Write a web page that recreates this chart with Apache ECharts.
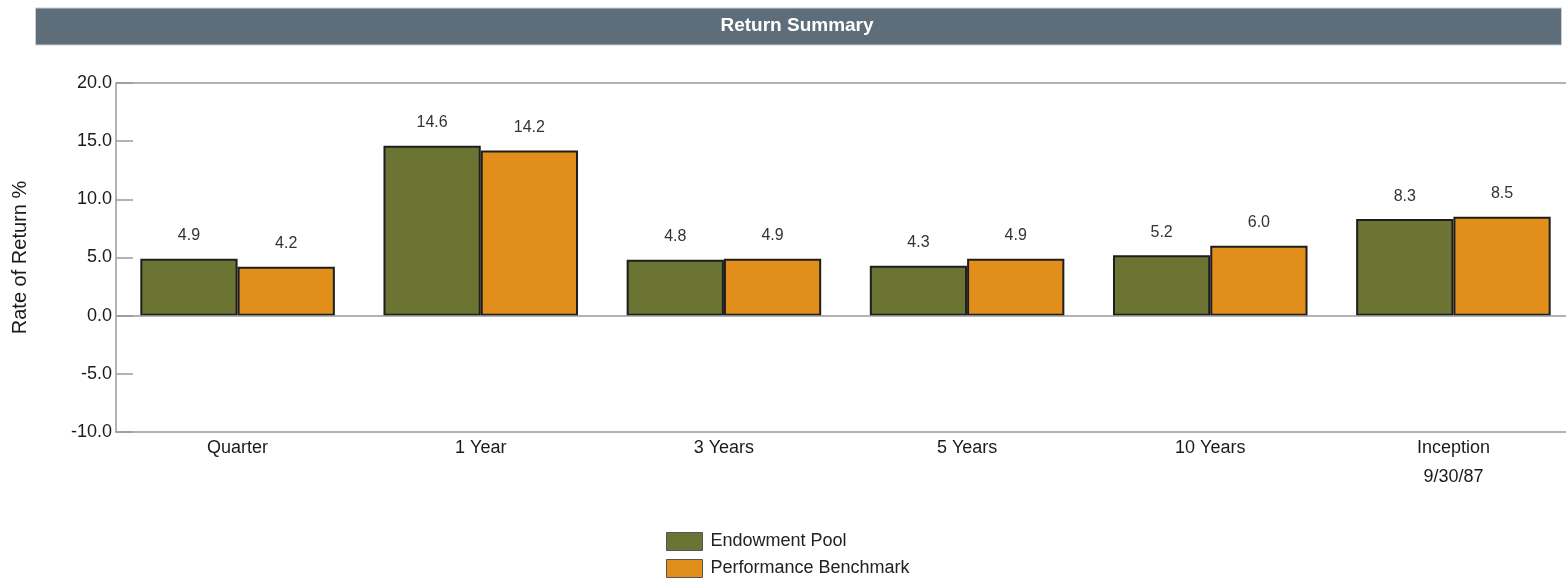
<!DOCTYPE html>
<html>
<head>
<meta charset="utf-8">
<script src="https://cdn.jsdelivr.net/npm/echarts@6/dist/echarts.min.js"></script>
<style>
  html, body { margin: 0; padding: 0; background: #fff; overflow: hidden; }
  /* the plot area runs a little past the right edge of the window, as in the source picture */
  #returnSummary { width: 1575px; height: 578px; }
</style>
</head>
<body>
<div id="returnSummary"></div>
<script>
var categories = ["Quarter", "1 Year", "3 Years", "5 Years", "10 Years", "Inception\n9/30/87"];
var endowmentPool = [4.9, 14.6, 4.8, 4.3, 5.2, 8.3];
var performanceBenchmark = [4.2, 14.2, 4.9, 4.9, 6.0, 8.5];
var seriesNames = ["Endowment Pool", "Performance Benchmark"];
var titleText = "Return Summary";

var font = "'Liberation Sans', Arial, sans-serif";

var myChart = echarts.init(document.getElementById("returnSummary"));

function barSeries(name, data, color) {
  return {
    name: name,
    type: "bar",
    data: data,
    barGap: "0%",
    barCategoryGap: "20%",
    itemStyle: {
      color: color,
      borderColor: "#1e1e1e",
      borderWidth: 2
    },
    label: {
      show: true,
      position: "top",
      distance: 15,
      color: "#333",
      fontSize: 16,
      fontFamily: font,
      formatter: function (p) {
        return p.value.toFixed(1);
      }
    }
  };
}

var series = [
  barSeries(seriesNames[0], endowmentPool, "#6b7433"),
  barSeries(seriesNames[1], performanceBenchmark, "#e18e1a")
];
// zero line and top line
series[0].markLine = {
  silent: true,
  symbol: "none",
  label: { show: false },
  lineStyle: { color: "#9a9a9a", width: 1.5, type: "solid" },
  data: [{ yAxis: 0 }, { yAxis: 20 }]
};

var option = {
  animation: false,
  backgroundColor: "#fff",
  graphic: [
    {
      type: "rect",
      left: 35,
      top: 7.5,
      z: 10,
      shape: { width: 1526, height: 37 },
      style: { fill: "#5d6d79", stroke: "#c9cfd4", lineWidth: 1 }
    },
    {
      type: "text",
      x: 797,
      y: 26,
      z: 11,
      style: {
        text: titleText,
        fill: "#fff",
        font: "bold 19px " + font,
        textAlign: "center",
        textVerticalAlign: "middle"
      }
    }
  ],
  legend: {
    orient: "vertical",
    left: 666,
    top: 532,
    height: 46,
    padding: 0,
    itemWidth: 36,
    itemHeight: 18,
    itemGap: 8,
    icon: "rect",
    selectedMode: false,
    textStyle: {
      color: "#222",
      fontSize: 18,
      lineHeight: 18,
      fontFamily: font,
      padding: [0, 0, 0, 3]
    },
    itemStyle: { borderColor: "#555", borderWidth: 1 },
    data: seriesNames
  },
  grid: {
    left: 116,
    right: 0,
    top: 83,
    bottom: 146,
    containLabel: false
  },
  xAxis: {
    type: "category",
    data: categories,
    axisLine: { onZero: false, lineStyle: { color: "#9a9a9a", width: 1.5 } },
    axisTick: { show: false },
    axisLabel: {
      color: "#1a1a1a",
      fontSize: 18,
      fontFamily: font,
      lineHeight: 29,
      margin: 2
    }
  },
  yAxis: {
    type: "value",
    min: -10,
    max: 20,
    interval: 5,
    name: "Rate of Return %",
    nameLocation: "middle",
    nameGap: 86,
    nameTextStyle: { color: "#1a1a1a", fontSize: 20, fontFamily: font },
    axisLine: { show: true, lineStyle: { color: "#9a9a9a", width: 1.5 } },
    axisTick: { show: true, inside: true, length: 17, lineStyle: { color: "#9a9a9a", width: 1.5 } },
    splitLine: { show: false },
    axisLabel: {
      color: "#1a1a1a",
      fontSize: 18,
      fontFamily: font,
      margin: 4,
      formatter: function (v) {
        return v.toFixed(1);
      }
    }
  },
  series: series
};

myChart.setOption(option, true);
</script>
</body>
</html>
